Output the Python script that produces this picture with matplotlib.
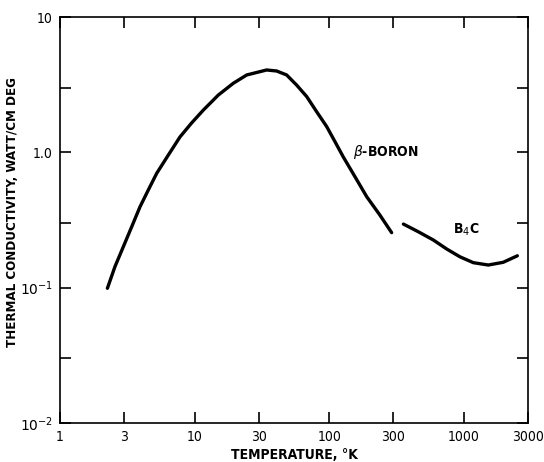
import matplotlib
matplotlib.use("Agg")
import matplotlib.pyplot as plt
from matplotlib.ticker import FixedLocator, NullLocator, FixedFormatter

# Data
boron_T = [2.25, 2.56, 2.95, 3.41, 3.93, 4.53, 5.23, 6.38, 7.79, 9.51, 11.6, 15.0,
           19.4, 24.4, 34.3, 40.7, 48.3, 57.3, 68.1, 80.7, 95.8, 110.5, 127,
           155.5, 190, 238, 291]
boron_k = [0.099, 0.143, 0.200, 0.282, 0.396, 0.527, 0.70, 0.955, 1.30, 1.65, 2.05, 2.65,
           3.24, 3.73, 4.06, 3.99, 3.73, 3.14, 2.58, 1.995, 1.55, 1.197, 0.928,
           0.66, 0.47, 0.344, 0.255]
b4c_T = [356, 459, 594, 747, 937, 1177, 1521, 1963, 2500]
b4c_k = [0.295, 0.259, 0.225, 0.193, 0.169, 0.153, 0.147, 0.154, 0.172]

x_ticks = [1, 3, 10, 30, 100, 300, 1000, 3000]
x_labels = ["1", "3", "10", "30", "100", "300", "1000", "3000"]
y_ticks = [0.01, 0.03, 0.1, 0.3, 1.0, 3.0, 10]
y_labels = [r"$10^{-2}$", "", r"$10^{-1}$", "", "1.0", "", "10"]

plt.rcParams['font.family'] = ['DejaVu Sans']
fs = dict(fontstretch='condensed', fontweight='bold')

fig = plt.figure(figsize=(5.44, 4.62), dpi=100)
ax = fig.add_axes([0.1103, 0.0844, 0.8603, 0.8788])
ax.set_xscale('log')
ax.set_yscale('log')
ax.set_xlim(1, 3000)
ax.set_ylim(0.01, 10)

ax.plot(boron_T, boron_k, color='black', lw=2.4, solid_capstyle='round',
        solid_joinstyle='round')
ax.plot(b4c_T, b4c_k, color='black', lw=2.4, solid_capstyle='round',
        solid_joinstyle='round')

ax.xaxis.set_major_locator(FixedLocator(x_ticks))
ax.xaxis.set_major_formatter(FixedFormatter(x_labels))
ax.xaxis.set_minor_locator(NullLocator())
ax.yaxis.set_major_locator(FixedLocator(y_ticks))
ax.yaxis.set_major_formatter(FixedFormatter(y_labels))
ax.yaxis.set_minor_locator(NullLocator())
ax.tick_params(direction='in', length=8, width=1.2, top=True, right=True,
               labelsize=10, pad=5)
for lab in ax.get_xticklabels() + ax.get_yticklabels():
    lab.set_fontstretch('condensed')
for s in ax.spines.values():
    s.set_linewidth(1.2)

ax.text(150, 1.0, r"$\beta$-BORON", fontsize=10, ha='left', va='center', **fs)
ax.text(1040, 0.267, r"B$_4$C", fontsize=10, ha='center', va='center', **fs)

ax.set_xlabel("TEMPERATURE, °K", fontsize=10, labelpad=3, **fs)
ax.set_ylabel("THERMAL CONDUCTIVITY, WATT/CM DEG", fontsize=9.5, **fs)
ax.yaxis.set_label_coords(-0.088, 0.52)

fig.savefig("out.png", dpi=100)
